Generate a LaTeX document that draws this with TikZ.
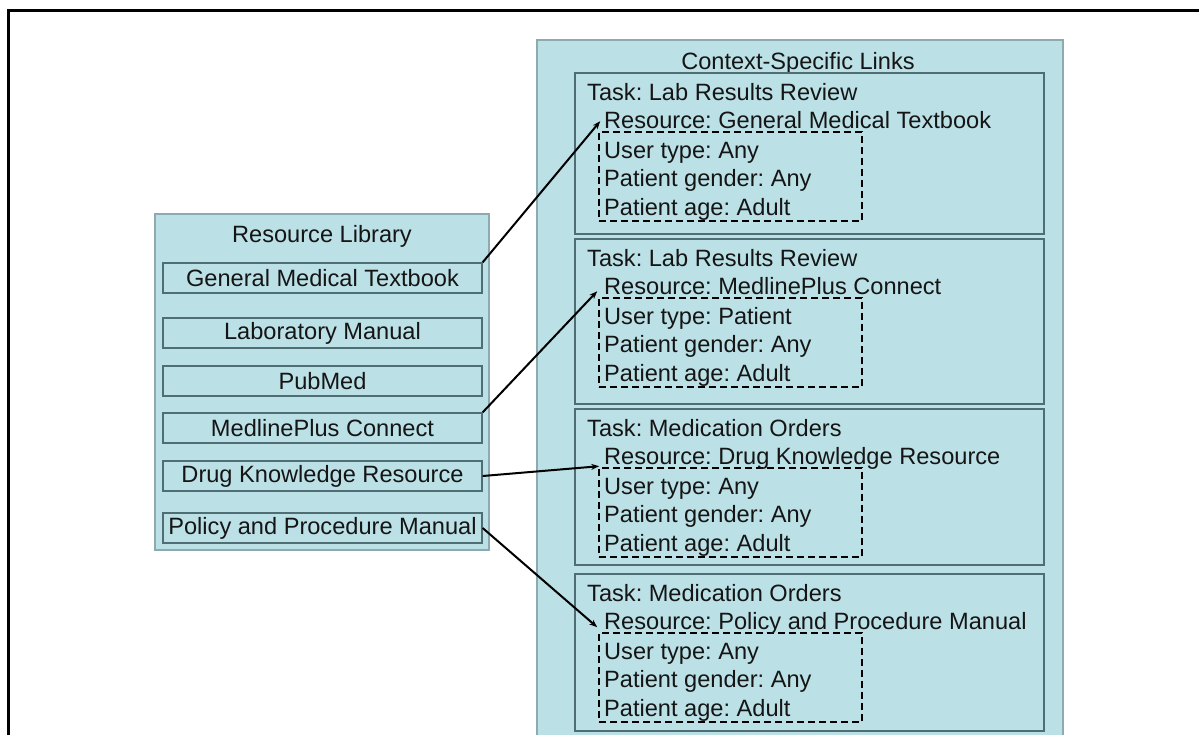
\documentclass[tikz,border=0pt]{standalone}
\usepackage{fontspec}
\setmainfont{Liberation Sans}
\usetikzlibrary{arrows.meta}
\definecolor{panelfill}{HTML}{BBE0E6}
\definecolor{paneldraw}{HTML}{8DAAB0}
\definecolor{boxdraw}{HTML}{4E6E74}
\definecolor{txt}{HTML}{151515}
\frenchspacing
\begin{document}
\begin{tikzpicture}[x=1pt,y=-1pt,
  font=\fontsize{23.6}{27}\selectfont\frenchspacing,
  panel/.style={draw=paneldraw, fill=panelfill, line width=1.2pt, inner sep=0pt},
  itembox/.style={draw=boxdraw, fill=panelfill, line width=1.3pt, inner sep=0pt,
    minimum width=319, minimum height=30, text=txt},
  taskbox/.style={draw=boxdraw, fill=panelfill, line width=1.3pt, inner sep=0pt,
    minimum width=469},
  dbox/.style={draw=black, dash pattern=on 7pt off 4pt, line width=1.6pt, inner sep=0pt,
    minimum width=263, minimum height=89},
  ttl/.style={inner sep=0pt, text=txt, yshift=-3pt},
  lbl/.style={inner sep=0pt, anchor=mid west, text=txt, yshift=-5pt},
  arr/.style={line width=2pt, -{Stealth[length=8pt,width=6pt]}}]
\useasboundingbox (0,0) rectangle (1199,734);
\clip (0,0) rectangle (1199,734);
\fill[white] (0,0) rectangle (1199,734);
% outer frame
\draw[line width=3pt] (8,800) -- (8,10) -- (1250,10);

% resource library
\node[panel, minimum width=334, minimum height=336] (lib) at (322,382) {};
\node[ttl] (libtitle) at (322,233) {Resource Library};
\node[itembox] (gmt) at (322.5,278) {General Medical Textbook};
\node[itembox] (lab) at (322.5,333) {Laboratory Manual};
\node[itembox] (pub) at (322.5,381) {PubMed};
\node[itembox] (med) at (322.5,428) {MedlinePlus Connect};
\node[itembox] (drug) at (322.5,476) {Drug Knowledge Resource};
\node[itembox] (pol) at (322.5,528) {Policy and Procedure Manual};

% context specific links
\node[panel, minimum width=526, minimum height=760] (ctx) at (800,420) {};
\node[ttl] (ctxtitle) at (798,60) {Context-Specific Links};

% task box 1
\node[taskbox, minimum height=161] (t1) at (809.5,153.5) {};
\node[lbl] (task1) at (587,93) {Task: Lab Results Review};
\node[dbox] (d1) at (730.5,176.5) {};
\node[lbl] (res1) at (604,121) {Resource: General Medical Textbook};
\node[lbl] (u1) at (604,151) {User type: Any};
\node[lbl] (g1) at (604,179) {Patient gender: Any};
\node[lbl] (a1) at (604,208) {Patient age: Adult};

% task box 2
\node[taskbox, minimum height=165] (t2) at (809.5,321.5) {};
\node[lbl] (task2) at (587,259) {Task: Lab Results Review};
\node[dbox] (d2) at (730.5,342.5) {};
\node[lbl] (res2) at (604,287) {Resource: MedlinePlus Connect};
\node[lbl] (u2) at (604,317) {User type: Patient};
\node[lbl] (g2) at (604,345) {Patient gender: Any};
\node[lbl] (a2) at (604,374) {Patient age: Adult};

% task box 3
\node[taskbox, minimum height=156] (t3) at (809.5,487) {};
\node[lbl] (task3) at (587,429) {Task: Medication Orders};
\node[dbox] (d3) at (730.5,512.5) {};
\node[lbl] (res3) at (604,457) {Resource: Drug Knowledge Resource};
\node[lbl] (u3) at (604,487) {User type: Any};
\node[lbl] (g3) at (604,515) {Patient gender: Any};
\node[lbl] (a3) at (604,544) {Patient age: Adult};

% task box 4
\node[taskbox, minimum height=157] (t4) at (809.5,652.5) {};
\node[lbl] (task4) at (587,594) {Task: Medication Orders};
\node[dbox] (d4) at (730.5,677.5) {};
\node[lbl] (res4) at (604,622) {Resource: Policy and Procedure Manual};
\node[lbl] (u4) at (604,652) {User type: Any};
\node[lbl] (g4) at (604,680) {Patient gender: Any};
\node[lbl] (a4) at (604,709) {Patient age: Adult};

% connectors
\draw[arr] (gmt.north east) -- ([xshift=2pt,yshift=10pt]d1.north west);
\draw[arr] (med.north east) -- ([xshift=-1pt,yshift=6pt]d2.north west);
\draw[arr] (drug.east) -- ([xshift=1pt,yshift=1pt]d3.north west);
\draw[arr] (pol.east) -- ([xshift=-1pt,yshift=5pt]d4.north west);
\end{tikzpicture}
\end{document}
